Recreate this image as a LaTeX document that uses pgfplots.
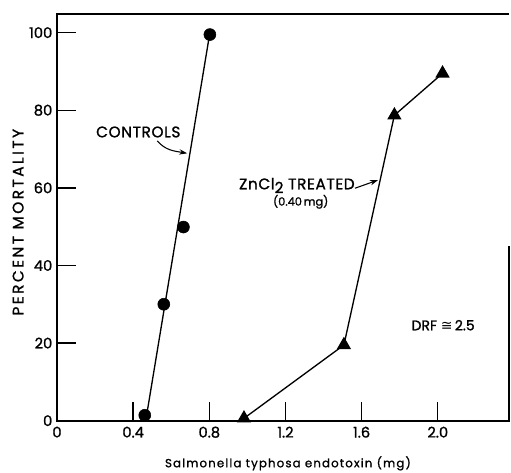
\documentclass[border=0pt]{standalone}
\usepackage{fontspec}
\setmainfont{Poppins}[FakeBold=1.2]
\newfontfamily\spaced{Poppins}[LetterSpace=10,FakeBold=1.2]
\newfontfamily\yspaced{Poppins}[LetterSpace=16,FakeBold=1.2]
\newfontfamily\wide{Poppins}[LetterSpace=4,FakeBold=1.2]
\newfontfamily\dejavu{DejaVu Sans}
\usepackage{pgfplots}
\pgfplotsset{compat=1.18}
\usetikzlibrary{arrows.meta}
\begin{document}
\begin{tikzpicture}
\useasboundingbox (-42.75pt,-38.6pt) rectangle (340.5pt,315.5pt);
\begin{axis}[
  scale only axis, width=339pt, height=305pt,
  xmin=0, xmax=2.374, ymin=0, ymax=104.8,
  axis line style={draw=none},
  tick pos=left, tick align=inside,
  major tick length=14pt,
  tick style={black, line width=1pt},
  xtick={0,0.4,0.8,1.2,1.6,2.0},
  xticklabels={0,0.4,0.8,1.2,1.6,2.0},
  ytick={0,20,40,60,80,100},
  yticklabels={0,20,40,60,80,100},
  ticklabel style={font=\fontsize{11}{12}\selectfont},
  xticklabel style={yshift=-1pt},
  /pgf/number format/assume math mode=true,
  xlabel={\spaced Salmonella typhosa endotoxin (mg)},
  xlabel style={at={(axis description cs:0.511,0)}, anchor=center, yshift=-32pt,
    font=\fontsize{8.8}{10}\selectfont},
  ylabel={\yspaced PERCENT MORTALITY},
  ylabel style={at={(axis description cs:-0.086,0.488)}, anchor=center,
    font=\fontsize{11.5}{12}\selectfont},
  clip=false,
]
  % frame
  \draw[line width=1.5pt] (rel axis cs:1,1) -- (rel axis cs:0,1) -- (rel axis cs:0,0)
    -- (rel axis cs:1,0) -- (rel axis cs:1,0.43);
  % controls: fitted line and observed points
  \addplot[black, line width=1pt] coordinates {(0.466,0) (0.803,100)};
  \addplot[only marks, mark=*, mark size=4.5pt, black]
    coordinates {(0.461,1.4) (0.561,30.0) (0.664,49.9) (0.803,99.5)};
  % ZnCl2 treated
  \addplot[black, line width=1pt, mark=triangle*, mark size=5.2pt]
    coordinates {(0.982,0.6) (1.507,19.5) (1.772,78.7) (2.025,89.5)};
  % annotations
  \node[font=\fontsize{11.5}{12}\wide] at (axis cs:0.427,74.4) {CONTROLS};
  \draw[-{Stealth[length=6pt,width=4pt]}, line width=0.8pt]
    (axis cs:0.527,72.1) to[out=-50,in=170] (axis cs:0.684,68.9);
  \node[font=\fontsize{11.5}{12}\wide, inner sep=1pt] at (axis cs:1.26,60.6)
    {ZnCl\raisebox{-0.45ex}{2} TREATED};
  \node[font=\fontsize{8.5}{10}\selectfont, inner sep=0.5pt] at (axis cs:1.28,56.4) {(0.40\,mg)};
  \draw[-{Stealth[length=6pt,width=4pt]}, line width=0.8pt]
    (axis cs:1.565,59.9) -- (axis cs:1.686,62.0);
  \node[font=\fontsize{10.5}{11}\selectfont, inner sep=0pt] at (axis cs:2.028,24.6)
    {DRF {\dejavu ≅}\,2.5};
\end{axis}
\end{tikzpicture}
\end{document}
